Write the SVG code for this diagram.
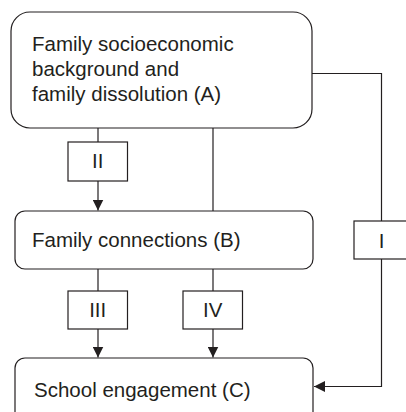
<svg xmlns="http://www.w3.org/2000/svg" width="406" height="412" viewBox="0 0 406 412">
<style>
.box{fill:#fff;stroke:#231f20;stroke-width:1.2}
.ln{fill:none;stroke:#231f20;stroke-width:1.2}
text{font-family:"Liberation Sans",Arial,sans-serif;font-size:20.5px;fill:#231f20}
.c{text-anchor:middle}
</style>
<defs>
<marker id="arr" viewBox="0 0 11 11" refX="11" refY="5.5" markerWidth="11" markerHeight="11" markerUnits="userSpaceOnUse" orient="auto">
<path d="M0,0 L11,5.5 L0,11 Z" fill="#231f20"/>
</marker>
</defs>
<rect width="406" height="412" fill="#fff"/>
<g id="connectors">
<path class="ln" d="M98,128 V142"/>
<path class="ln" d="M98,181 V210.5" marker-end="url(#arr)"/>
<path class="ln" d="M213,128 V211"/>
<path class="ln" d="M312,73.5 H381.5 V386.5 H314" marker-end="url(#arr)"/>
<path class="ln" d="M98,269 V291"/>
<path class="ln" d="M98,329 V357.5" marker-end="url(#arr)"/>
<path class="ln" d="M213,269 V291"/>
<path class="ln" d="M213,329 V357.5" marker-end="url(#arr)"/>
</g>
<g id="nodeA">
<rect class="box" x="11" y="12" width="301" height="116" rx="19" ry="19"/>
<text x="32" y="51">Family socioeconomic</text>
<text x="32" y="76">background and</text>
<text x="32" y="101">family dissolution (A)</text>
</g>
<g id="nodeB">
<rect class="box" x="15" y="211" width="298" height="58" rx="10" ry="10"/>
<text x="32" y="247">Family connections (B)</text>
</g>
<g id="nodeC">
<rect class="box" x="15" y="358" width="298" height="70" rx="10" ry="10"/>
<text x="34" y="397">School engagement (C)</text>
</g>
<g id="labelII">
<rect class="box" x="68" y="142" width="59.5" height="39"/>
<text class="c" x="97.7" y="168">II</text>
</g>
<g id="labelI">
<rect class="box" x="354" y="221" width="56" height="38"/>
<text class="c" x="381.5" y="248">I</text>
</g>
<g id="labelIII">
<rect class="box" x="68" y="291" width="59.5" height="38"/>
<text class="c" x="97.7" y="316.5">III</text>
</g>
<g id="labelIV">
<rect class="box" x="183" y="291" width="59.5" height="38"/>
<text class="c" x="212.7" y="316.5">IV</text>
</g>
</svg>
